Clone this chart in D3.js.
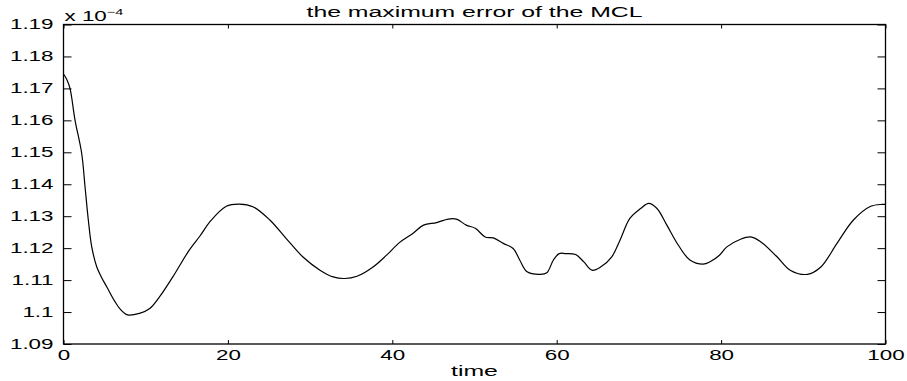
<!DOCTYPE html>
<html>
<head>
<meta charset="utf-8">
<script src="https://cdn.jsdelivr.net/npm/d3@7"></script>
<style>
  body { margin: 0; background: #fff; }
  text { font-family: "Liberation Sans", Arial, Helvetica, sans-serif; fill: #000; }
</style>
</head>
<body>
<svg id="chart" width="907" height="381"></svg>
<script>
// Maximum error of the MCL over time (values in units of 1e-4)
const time = [
  0, 0.4, 0.79, 1.4, 2.21, 2.62, 3.02, 3.43, 4.04, 4.6, 5.26, 6.2, 6.87, 7.8, 9.25,
  10.5, 11.7, 13.3, 15.3, 16.6, 17.8, 19.8, 21.4, 23.1, 25.1, 27.1, 29.1, 31.2,
  32.8, 34.2, 35.7, 37.7, 39.3, 40.9, 42.5, 43.8, 45.4, 46.8, 47.8, 49.0, 50.1,
  51.3, 52.3, 53.5, 54.7, 55.5, 56.4, 58.0, 58.8, 59.6, 60.3, 61.1, 62.3, 63.3,
  64.3, 65.3, 66.7, 67.7, 68.9, 70.2, 71.2, 72.2, 73.4, 74.8, 76.2, 77.8, 78.7,
  79.8, 80.7, 82.3, 83.6, 84.8, 86.8, 88.4, 90.5, 92.1, 94.1, 96.1, 98.2, 99.6, 100
];
const maxError = [
  1.1745, 1.1728, 1.1700, 1.1601, 1.1497, 1.1392, 1.1288, 1.1205, 1.1142, 1.1110,
  1.1079, 1.1035, 1.1010, 1.0991, 1.0996, 1.1011, 1.1048, 1.1110, 1.1194, 1.1238,
  1.1282, 1.1331, 1.1338, 1.1329, 1.1288, 1.1230, 1.1173, 1.1131, 1.1110, 1.1105,
  1.1112, 1.1142, 1.1178, 1.1218, 1.1246, 1.1272, 1.1280, 1.1291, 1.1291, 1.1272,
  1.1262, 1.1235, 1.1232, 1.1215, 1.1199, 1.1163, 1.1126, 1.1118, 1.1123, 1.1163,
  1.1183, 1.1183, 1.1180, 1.1157, 1.1131, 1.1140, 1.1173, 1.1225, 1.1293, 1.1324,
  1.1340, 1.1324, 1.1272, 1.1209, 1.1163, 1.1150, 1.1158, 1.1178, 1.1204, 1.1227,
  1.1235, 1.1220, 1.1173, 1.1131, 1.1118, 1.1140, 1.1215, 1.1288, 1.1331, 1.1337,
  1.1337
];
const xTicks = [0, 20, 40, 60, 80, 100];
const yTicks = [1.09, 1.10, 1.11, 1.12, 1.13, 1.14, 1.15, 1.16, 1.17, 1.18, 1.19];
const yTickLabels = ["1.09", "1.1", "1.11", "1.12", "1.13", "1.14", "1.15", "1.16", "1.17", "1.18", "1.19"];
const titleText = "the maximum error of the MCL";
const xLabelText = "time";
const exponentText = "\u22124";

const SX = 1.6;            // horizontal text stretch
const plot = { left: 63.5, right: 885.5, top: 24.5, bottom: 344 };

const svg = d3.select("#chart");
const x = d3.scaleLinear().domain([0, 100]).range([plot.left, plot.right]);
const y = d3.scaleLinear().domain([1.09, 1.19]).range([plot.bottom, plot.top]);

// tick marks on all four sides, pointing inward
const fmtY = d => yTickLabels[yTicks.indexOf(d)];

const gLeft = svg.append("g")
  .attr("transform", `translate(${plot.left},0)`)
  .call(d3.axisLeft(y).tickValues(yTicks).tickFormat(fmtY)
    .tickSizeInner(-8).tickSizeOuter(0).tickPadding(10));
gLeft.selectAll("text")
  .attr("x", 0)
  .attr("transform", `translate(-10,0) scale(${SX},1)`);

const gRight = svg.append("g")
  .attr("transform", `translate(${plot.right},0)`)
  .call(d3.axisRight(y).tickValues(yTicks).tickFormat("")
    .tickSizeInner(-8).tickSizeOuter(0));

const gBottom = svg.append("g")
  .attr("transform", `translate(0,${plot.bottom})`)
  .call(d3.axisBottom(x).tickValues(xTicks).tickFormat(d3.format("d"))
    .tickSizeInner(-4).tickSizeOuter(0).tickPadding(6));
gBottom.selectAll("text").attr("transform", `scale(${SX},1)`);

const gTop = svg.append("g")
  .attr("transform", `translate(0,${plot.top})`)
  .call(d3.axisTop(x).tickValues(xTicks).tickFormat("")
    .tickSizeInner(-4).tickSizeOuter(0));

[gLeft, gRight, gBottom, gTop].forEach(g => {
  g.attr("font-size", 14).attr("font-family", null);
  g.select(".domain").remove();
  g.selectAll("line").attr("stroke", "#000").attr("stroke-width", 1);
});

// axes box
svg.append("rect")
  .attr("x", plot.left).attr("y", plot.top)
  .attr("width", plot.right - plot.left)
  .attr("height", plot.bottom - plot.top)
  .attr("fill", "none").attr("stroke", "#000").attr("stroke-width", 1.3);

// error curve
const line = d3.line()
  .x((d, i) => x(time[i]))
  .y(d => y(d))
  .curve(d3.curveCatmullRom.alpha(0.5));

svg.append("path")
  .datum(maxError)
  .attr("fill", "none")
  .attr("stroke", "#000")
  .attr("stroke-width", 1.2)
  .attr("d", line);

// title
svg.append("text")
  .attr("text-anchor", "middle")
  .attr("font-size", 15.5)
  .attr("transform", `translate(${(plot.left + plot.right) / 2},17) scale(${SX},1)`)
  .text(titleText);

// x label
svg.append("text")
  .attr("text-anchor", "middle")
  .attr("font-size", 15.5)
  .attr("transform", `translate(${(plot.left + plot.right) / 2},376) scale(${SX},1)`)
  .text(xLabelText);

// exponent multiplier above the y axis
const mult = svg.append("text")
  .attr("font-size", 14)
  .attr("transform", `translate(${plot.left + 1},20.5) scale(${SX},1)`);
mult.append("tspan").text("x 10");
mult.append("tspan").attr("font-size", 9).attr("dy", -6).text(exponentText);
</script>
</body>
</html>
